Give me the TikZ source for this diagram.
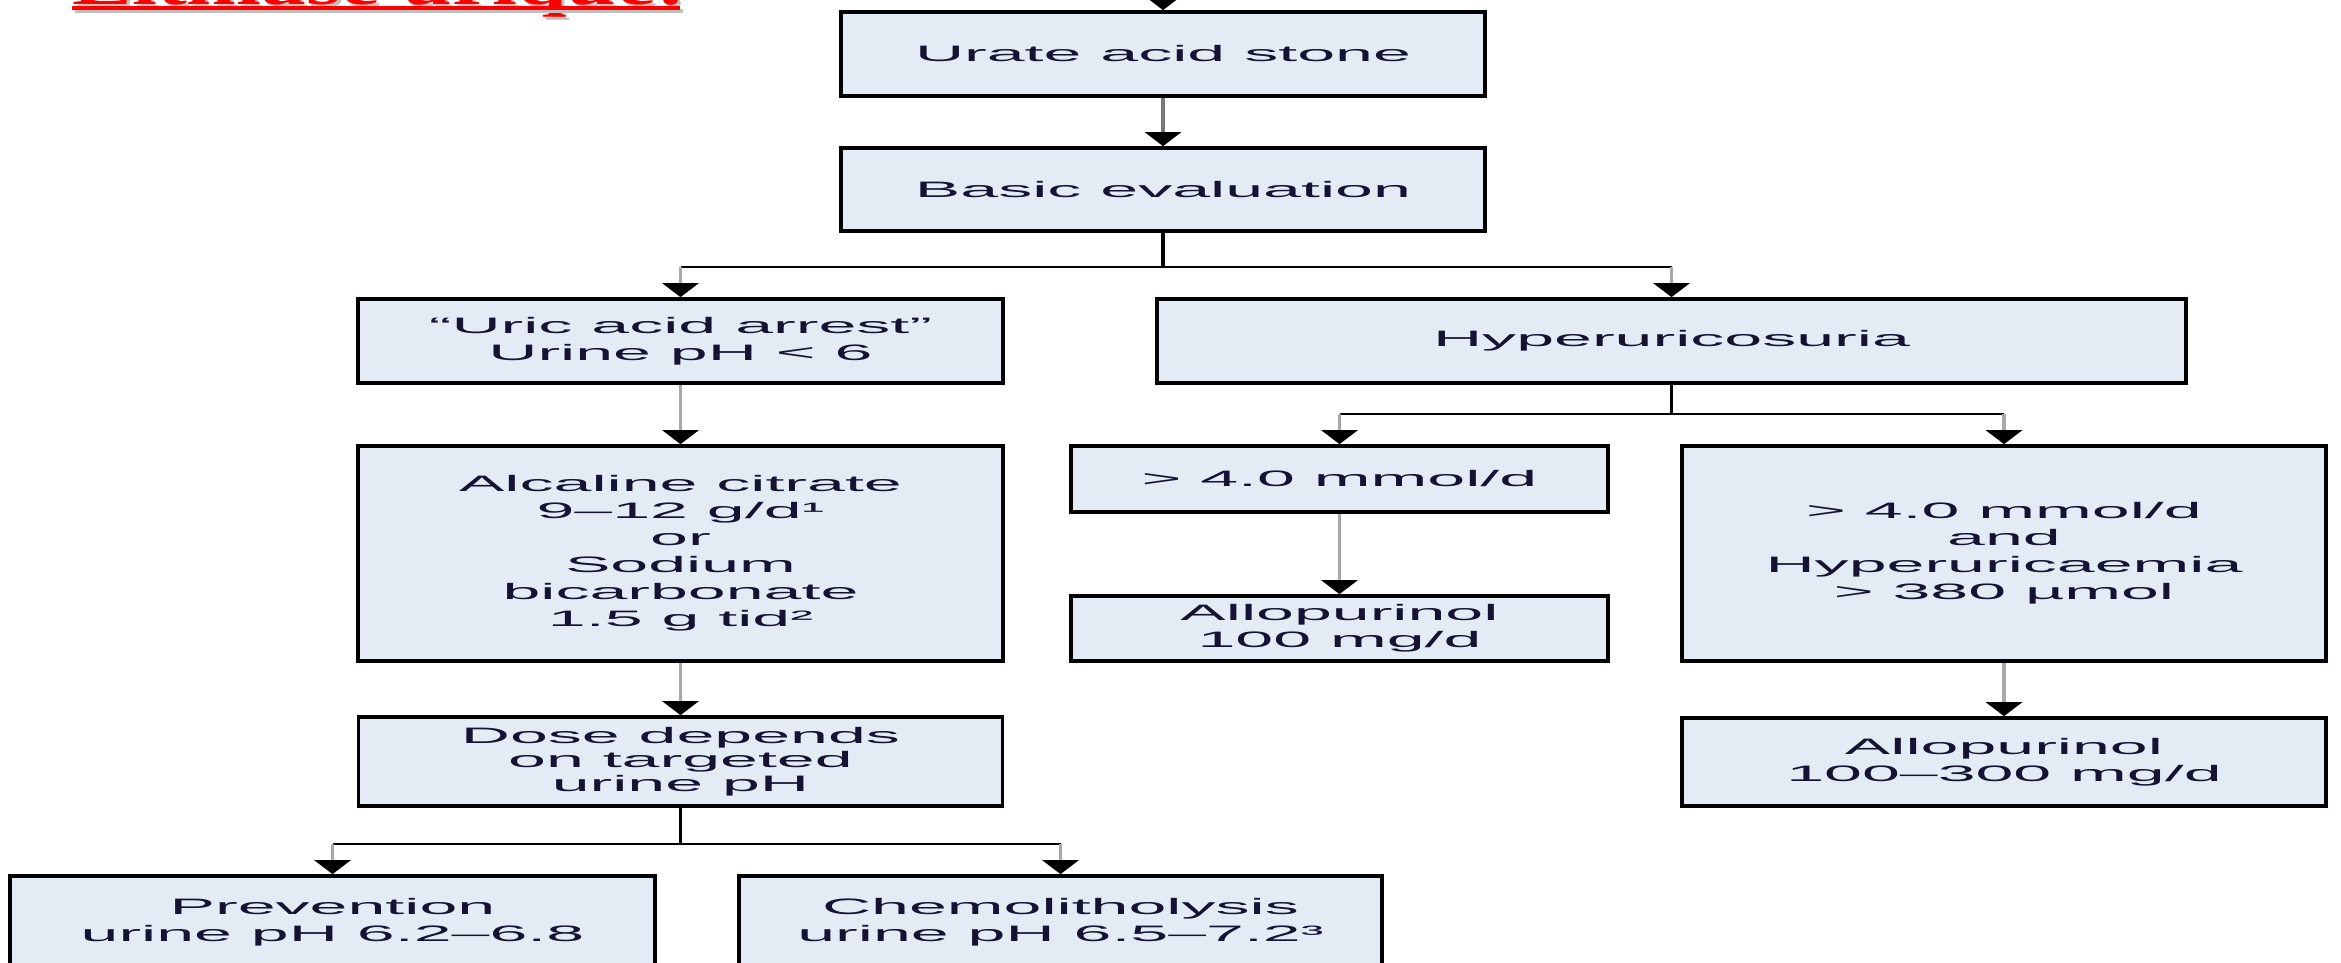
\documentclass[tikz,border=0pt]{standalone}
\usepackage{fontspec}
\setmainfont{Liberation Sans}
\newfontfamily\boxfont{Liberation Sans}[FakeStretch=3.05]
\newfontfamily\titlefont{Liberation Serif}[FakeStretch=1.49]
\usetikzlibrary{arrows.meta}
\definecolor{boxfill}{RGB}{227,235,244}
\definecolor{txt}{RGB}{20,20,50}
\definecolor{lgrey}{RGB}{168,168,168}
\definecolor{dgrey}{RGB}{120,120,120}
\tikzset{
  fbox/.style={draw=black, line width=1.1pt, fill=boxfill, inner sep=0pt, align=center,
    text=txt, font=\boxfont\fontsize{6.7}{8.1}\selectfont},
  arr/.style={line width=1.05pt, draw=lgrey, -{Triangle[width=10.8pt,length=4.2pt,color=black]}},
  trunk/.style={line width=1.05pt, draw=black},
  bar/.style={line width=0.6pt, draw=black},
}
\begin{document}
\begin{tikzpicture}[x=0.3pt, y=-0.3pt]
\useasboundingbox (0,0) rectangle (2341,963);
\clip (0,0) rectangle (2341,963);
\fill[white] (0,0) rectangle (2341,963);

% title (cut off at the top)
\node[anchor=base west, inner sep=0pt, text=gray!50, font=\titlefont\bfseries\fontsize{18}{18}\selectfont] (titleshadow) at (75,7.5) {Lithiase urique:};
\node[anchor=base west, inner sep=0pt, text=red, font=\titlefont\bfseries\fontsize{18}{18}\selectfont] (title) at (72,4.5) {Lithiase urique:};
\draw[gray!50, line width=1.05pt] (75,11) -- (683,11);
\draw[red, line width=1.05pt] (72,8) -- (680,8);

% boxes
\node[fbox, minimum width=644*0.3pt, minimum height=84*0.3pt] (b1) at (1163,54) {Urate acid stone};
\node[fbox, minimum width=644*0.3pt, minimum height=83*0.3pt] (b2) at (1163,189.5) {Basic evaluation};
\node[fbox, minimum width=645*0.3pt, minimum height=84*0.3pt] (b3) at (680.5,341) {“Uric acid arrest”\\Urine pH < 6};
\node[fbox, minimum width=1029*0.3pt, minimum height=84*0.3pt] (b4) at (1671.5,341) {Hyperuricosuria};
\node[fbox, minimum width=645*0.3pt, minimum height=215*0.3pt] (b5) at (680.5,553.5) {Alcaline citrate\\9–12 g/d¹\\or\\Sodium\\bicarbonate\\1.5 g tid²};
\node[fbox, minimum width=537*0.3pt, minimum height=66*0.3pt] (b6) at (1339.5,479) {> 4.0 mmol/d};
\node[fbox, minimum width=644*0.3pt, minimum height=215*0.3pt] (b7) at (2004,553.5) {> 4.0 mmol/d\\and\\Hyperuricaemia\\> 380 µmol};
\node[fbox, minimum width=537*0.3pt, minimum height=65*0.3pt] (b8) at (1339.5,628.5) {Allopurinol\\100 mg/d};
\node[fbox, minimum width=644*0.3pt, minimum height=88*0.3pt] (b9) at (2004,762) {Allopurinol\\100–300 mg/d};
\node[fbox, minimum width=644*0.3pt, minimum height=89*0.3pt, font=\boxfont\fontsize{6.7}{7.2}\selectfont] (b10) at (680.5,761.5) {Dose depends\\on targeted\\urine pH};
\node[fbox, minimum width=645*0.3pt, minimum height=92*0.3pt] (b11) at (332.5,922) {Prevention\\urine pH 6.2–6.8};
\node[fbox, minimum width=643*0.3pt, minimum height=92*0.3pt] (b12) at (1060.5,922) {Chemolitholysis\\urine pH 6.5–7.2³};

% junction coordinates
\coordinate (top) at (1163,-20);
\coordinate (j1) at (1163,267);
\coordinate (j1l) at (680.5,267);
\coordinate (j1r) at (1671.5,267);
\coordinate (j2) at (1671.5,414);
\coordinate (j2l) at (1339.5,414);
\coordinate (j2r) at (2004,414);
\coordinate (j3) at (680.5,844);
\coordinate (j3l) at (332.5,844);
\coordinate (j3r) at (1060.5,844);

% connectors
\draw[arr, draw=black] (top) -- (b1.north);
\draw[arr, draw=dgrey] (b1.south) -- (b2.north);
\draw[trunk] (b2.south) -- (j1);
\draw[bar] (j1l) -- (j1r);
\draw[arr] (j1l) -- (b3.north);
\draw[arr] (j1r) -- (b4.north);
\draw[arr] (b3.south) -- (b5.north);
\draw[trunk] (b4.south) -- (j2);
\draw[bar] (j2l) -- (j2r);
\draw[arr] (j2l) -- (b6.north);
\draw[arr] (j2r) -- (b7.north);
\draw[arr] (b6.south) -- (b8.north);
\draw[arr] (b7.south) -- (b9.north);
\draw[arr] (b5.south) -- (b10.north);
\draw[trunk] (b10.south) -- (j3);
\draw[bar] (j3l) -- (j3r);
\draw[arr] (j3l) -- (b11.north);
\draw[arr] (j3r) -- (b12.north);
\end{tikzpicture}
\end{document}
